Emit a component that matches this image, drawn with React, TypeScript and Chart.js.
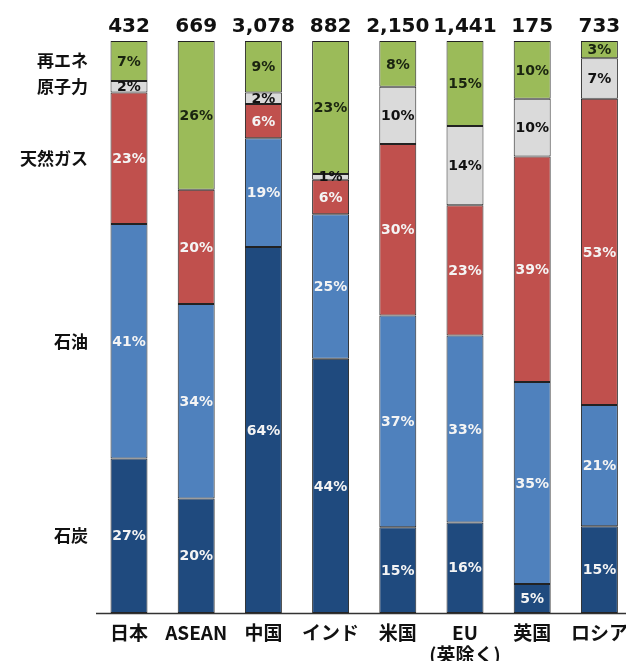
import { useEffect, useRef } from "react";
import { Chart, registerables } from "chart.js";

Chart.register(...registerables);

// Primary energy mix by region (%), with total supply shown above each column
const regions = ["日本", "ASEAN", "中国", "インド", "米国", "EU\n(英除く)", "英国", "ロシア"];
const totals = ["432", "669", "3,078", "882", "2,150", "1,441", "175", "733"];
const coal = [27, 20, 64, 44, 15, 16, 5, 15];
const oil = [41, 34, 19, 25, 37, 33, 35, 21];
const gas = [23, 20, 6, 6, 30, 23, 39, 53];
const nuclear = [2, 0, 2, 1, 10, 14, 10, 7];
const renewables = [7, 26, 9, 23, 8, 15, 10, 3];
const sourceNames = ["石炭", "石油", "天然ガス", "原子力", "再エネ"];

const series = [coal, oil, gas, nuclear, renewables];
const colors = ["#1f4a7e", "#4f81bd", "#c0504d", "#dadada", "#9bbb59"];
const labelColors = ["#f4f4f4", "#f4f4f4", "#f4f4f4", "#111111", "#1a2410"];

const LATIN = '"DejaVu Sans", "Noto Sans CJK JP", sans-serif';
const CJK = '"Noto Sans CJK JP", "DejaVu Sans", sans-serif';

// Each column is rounded; scale it so the stack fills 0–100
const columnSums = regions.map((_, i) => series.reduce((s, arr) => s + arr[i], 0));

const annotate = {
  id: "annotate",
  afterDatasetsDraw(chart: any) {
    const { ctx, chartArea } = chart;
    ctx.save();

    // value labels inside segments
    ctx.textAlign = "center";
    ctx.textBaseline = "middle";
    ctx.font = `bold 14px ${LATIN}`;
    series.forEach((arr, d) => {
      const meta = chart.getDatasetMeta(d);
      arr.forEach((v, i) => {
        if (!v) return;
        const el = meta.data[i];
        ctx.fillStyle = labelColors[d];
        ctx.fillText(`${v}%`, el.x, (el.y + el.base) / 2 + 1);
      });
    });

    // totals above columns
    ctx.fillStyle = "#111";
    ctx.font = `bold 20px ${LATIN}`;
    const m0 = chart.getDatasetMeta(0);
    totals.forEach((t, i) => {
      ctx.fillText(t, m0.data[i].x, 27);
    });

    // series names next to the first column
    ctx.textAlign = "right";
    ctx.font = `bold 17px ${CJK}`;
    sourceNames.forEach((name, d) => {
      const el = chart.getDatasetMeta(d).data[0];
      ctx.fillText(name, 88, (el.y + el.base) / 2);
    });

    // baseline
    ctx.strokeStyle = "#333";
    ctx.lineWidth = 1.5;
    ctx.beginPath();
    ctx.moveTo(96, chartArea.bottom + 0.5);
    ctx.lineTo(chart.width, chartArea.bottom + 0.5);
    ctx.stroke();

    // category labels
    ctx.textAlign = "center";
    ctx.fillStyle = "#111";
    ctx.font = `bold 19px ${CJK}`;
    regions.forEach((r, i) => {
      const x = m0.data[i].x;
      r.split("\n").forEach((line, k) => {
        ctx.fillText(line, x, 633 + k * 22);
      });
    });

    ctx.restore();
  },
};

export default function App() {
  const ref = useRef<HTMLCanvasElement>(null);

  useEffect(() => {
    if (!ref.current) return;
    const chart = new Chart(ref.current, {
      type: "bar",
      data: {
        labels: regions,
        datasets: series.map((arr, d) => ({
          label: sourceNames[d],
          data: arr.map((v, i) => (v / columnSums[i]) * 100),
          backgroundColor: colors[d],
          borderColor: "#222",
          borderWidth: 1,
          borderSkipped: false,
          barPercentage: 0.55,
          categoryPercentage: 1,
        })),
      },
      options: {
        responsive: false,
        animation: false,
        layout: { padding: { left: 95.4, right: 7, top: 41, bottom: 48 } },
        plugins: {
          legend: { display: false },
          tooltip: { enabled: false },
          title: { display: false },
        },
        scales: {
          x: { stacked: true, display: false, offset: true },
          y: { stacked: true, display: false, min: 0, max: 100 },
        },
      },
      plugins: [annotate],
    });
    return () => chart.destroy();
  }, []);

  return (
    <div
      style={{
        position: "fixed",
        left: 0,
        top: 0,
        width: 626,
        height: 661,
        overflow: "hidden",
        background: "#fff",
      }}
    >
      <canvas ref={ref} width={640} height={661} style={{ display: "block" }} />
    </div>
  );
}
